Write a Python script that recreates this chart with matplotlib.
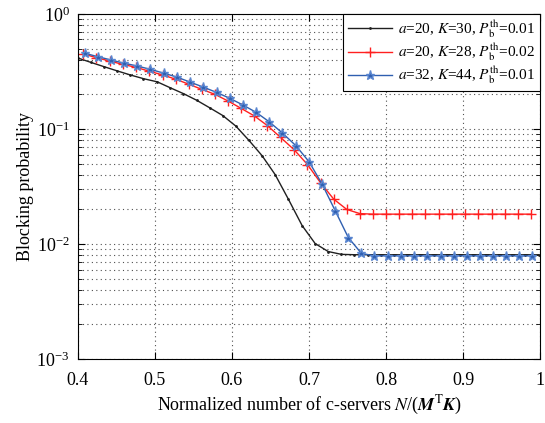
import numpy as np
import matplotlib
matplotlib.use('Agg')
import matplotlib.pyplot as plt
from matplotlib.ticker import LogLocator, NullFormatter

plt.rcParams['font.family'] = ['Liberation Serif', 'DejaVu Serif']
plt.rcParams['mathtext.fontset'] = 'stix'

# black: a=20, K=30, Pb_th=0.01
x_black = [0.400, 0.417, 0.434, 0.451, 0.468, 0.485, 0.503, 0.520, 0.537,
           0.554, 0.571, 0.588, 0.605, 0.622, 0.639, 0.656, 0.673, 0.691,
           0.708, 0.725, 0.742, 0.759, 0.776, 0.793, 0.810, 0.827, 0.844,
           0.862, 0.879, 0.896, 0.913, 0.930, 0.947, 0.964, 0.981, 0.998]
y_black = [0.414, 0.379, 0.348, 0.320, 0.295, 0.274, 0.257, 0.228, 0.203,
           0.178, 0.153, 0.131, 0.106, 0.0797, 0.0587, 0.0402, 0.0247, 0.0145,
           0.0101, 0.00861, 0.00814, 0.00808, 0.00808, 0.00808, 0.00808,
           0.00808, 0.00808, 0.00808, 0.00808, 0.00808, 0.00808, 0.00808,
           0.00808, 0.00808, 0.00808, 0.00808]

# red: a=20, K=28, Pb_th=0.02
x_red = [0.407, 0.424, 0.441, 0.458, 0.475, 0.492, 0.510, 0.527, 0.544,
         0.561, 0.578, 0.595, 0.612, 0.629, 0.646, 0.663, 0.681, 0.698,
         0.715, 0.732, 0.749, 0.766, 0.783, 0.800, 0.817, 0.834, 0.851,
         0.869, 0.886, 0.903, 0.920, 0.937, 0.954, 0.971, 0.988]
y_red = [0.449, 0.417, 0.390, 0.365, 0.344, 0.319, 0.295, 0.271, 0.245,
         0.221, 0.200, 0.175, 0.151, 0.130, 0.107, 0.0847, 0.0657, 0.0491,
         0.0341, 0.0246, 0.0200, 0.0184, 0.0182, 0.0182, 0.0182, 0.0182,
         0.0182, 0.0182, 0.0182, 0.0182, 0.0182, 0.0182, 0.0182, 0.0182,
         0.0182]

# blue: a=32, K=44, Pb_th=0.01
x_blue = [0.409, 0.426, 0.443, 0.460, 0.477, 0.494, 0.512, 0.529, 0.546,
          0.563, 0.580, 0.597, 0.614, 0.631, 0.648, 0.665, 0.683, 0.700,
          0.717, 0.734, 0.751, 0.768, 0.785, 0.802, 0.819, 0.836, 0.853,
          0.871, 0.888, 0.905, 0.922, 0.939, 0.956, 0.973, 0.990]
y_blue = [0.455, 0.425, 0.398, 0.373, 0.353, 0.330, 0.305, 0.282, 0.255,
          0.231, 0.208, 0.185, 0.162, 0.140, 0.116, 0.0929, 0.0716, 0.0520,
          0.0332, 0.0195, 0.0114, 0.0083, 0.0079, 0.0079, 0.0079, 0.0079,
          0.0079, 0.0079, 0.0079, 0.0079, 0.0079, 0.0079, 0.0079, 0.0079,
          0.0079]

labels = [r'$a$=20, $K$=30, $P_{\rm b}^{\rm th}$=0.01',
          r'$a$=20, $K$=28, $P_{\rm b}^{\rm th}$=0.02',
          r'$a$=32, $K$=44, $P_{\rm b}^{\rm th}$=0.01']

fig = plt.figure(figsize=(5.45, 4.23), dpi=100)
ax = fig.add_axes([0.143, 0.151, 0.848, 0.816])
ax.set_yscale('log')

ax.plot(x_black, y_black, color='#202020', linewidth=1.0, marker='.',
        markersize=2, label=labels[0])
ax.plot(x_red, y_red, color='#ff2020', linewidth=1.0, marker='+',
        markersize=6.5, markeredgewidth=1.0, label=labels[1])
ax.plot(x_blue, y_blue, color='#2f5fb0', linewidth=1.0, marker='*',
        markersize=6.5, markeredgecolor='#5a86d0', markerfacecolor='#2f5fb0',
        label=labels[2])

ax.set_xlim(0.4, 1.0)
ax.set_ylim(1e-3, 1)
ax.set_xticks([0.4, 0.5, 0.6, 0.7, 0.8, 0.9, 1.0])
ax.set_xticklabels(['0.4', '0.5', '0.6', '0.7', '0.8', '0.9', '1'])
ax.yaxis.set_major_locator(LogLocator(base=10, numticks=10))
ax.yaxis.set_minor_locator(LogLocator(base=10, subs=np.arange(2, 10), numticks=20))
ax.yaxis.set_minor_formatter(NullFormatter())

grid_style = dict(linestyle=(0, (1, 3)), color='#505050', linewidth=0.8)
ax.grid(True, which='major', **grid_style)
ax.grid(True, which='minor', axis='y', **grid_style)

ax.tick_params(which='both', direction='in', top=True, right=True, labelsize=13)
ax.tick_params(axis='x', pad=9)
ax.tick_params(axis='y', pad=6)
ax.tick_params(which='major', length=5)
ax.tick_params(which='minor', length=3)
for s in ax.spines.values():
    s.set_linewidth(0.8)

ax.set_xlabel(r'Normalized number of c-servers $N$/($\boldsymbol{M}^{\rm T}\boldsymbol{K}$)',
              fontsize=13, labelpad=4)
ax.set_ylabel('Blocking probability', fontsize=13, labelpad=2)

leg = ax.legend(loc='upper right', borderaxespad=0, fontsize=11, fancybox=False,
                framealpha=1, edgecolor='black', handlelength=2.9,
                handletextpad=0.4, borderpad=0.3, labelspacing=0.1)
leg.get_frame().set_linewidth(0.8)

fig.savefig('out.png', dpi=100)
